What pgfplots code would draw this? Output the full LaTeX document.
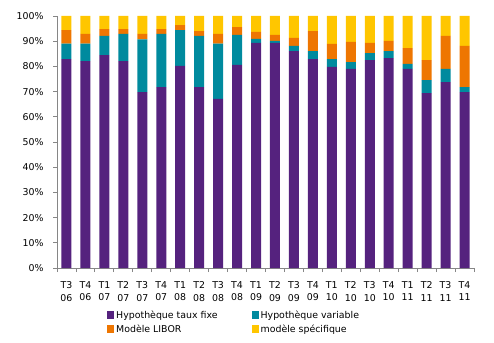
\documentclass[border=0pt]{standalone}
\usepackage{pgfplots}
\pgfplotsset{compat=1.18}
\usepackage{pgfplotstable}
\usepackage{fontspec}
\setmainfont{DejaVu Sans}
\definecolor{cPurple}{HTML}{55227E}
\definecolor{cTeal}{HTML}{008A9E}
\definecolor{cOrange}{HTML}{EE7601}
\definecolor{cYellow}{HTML}{FFC600}
\definecolor{cAxis}{HTML}{868686}
\pgfplotstableread{
x a b c d
0 82.9 6.1 5.4 5.6
1 82.1 6.9 3.9 7.1
2 84.5 7.6 2.7 5.2
3 82.1 10.8 1.9 5.2
4 69.8 20.9 2.2 7.1
5 71.8 21.1 1.9 5.2
6 80.2 14.2 2.0 3.6
7 71.8 20.3 1.9 6.0
8 67.1 21.9 3.9 7.1
9 80.6 11.9 3.1 4.4
10 89.3 1.6 2.8 6.3
11 89.3 0.8 2.4 7.5
12 86.1 2.0 3.2 8.7
13 82.9 3.2 7.9 6.0
14 79.8 3.1 6.0 11.1
15 79.0 2.7 8.0 10.3
16 82.5 2.8 4.0 10.7
17 83.3 2.8 4.0 9.9
18 79.0 2.0 6.3 12.7
19 69.4 5.2 7.9 17.5
20 73.8 5.2 13.1 7.9
21 69.8 2.0 16.3 11.9
}\data
\pgfplotsset{sqleg/.style={legend image code/.code={\fill[##1] (0pt,-3.6pt) rectangle (7pt,3.6pt);}}}
\begin{document}
\begin{tikzpicture}
\useasboundingbox (0,0) rectangle (494pt,342pt);
\begin{axis}[
  at={(57pt,74pt)}, anchor=south west,
  scale only axis, width=417pt, height=252pt,
  ybar stacked, bar width=10pt,
  xmin=-0.5, xmax=21.5, ymin=0, ymax=100,
  axis x line*=bottom, axis y line*=left,
  axis line style={draw=cAxis, line width=0.9pt},
  tick align=outside,
  tick style={draw=cAxis, line width=0.9pt},
  major tick length=4pt, minor tick length=4pt,
  xtick={0,...,21},
  major x tick style={draw=none},
  minor xtick={-0.5,0.5,...,21.5},
  xticklabels={{T3\\06},{T4\\06},{T1\\07},{T2\\07},{T3\\07},{T4\\07},{T1\\08},{T2\\08},{T3\\08},{T4\\08},{T1\\09},{T2\\09},{T3\\09},{T4\\09},{T1\\10},{T2\\10},{T3\\10},{T4\\10},{T1\\11},{T2\\11},{T3\\11},{T4\\11}},
  xticklabel style={align=center, font=\fontsize{9.4}{12.5}\selectfont, yshift=-6pt},
  ytick={0,10,...,100},
  yticklabels={0\%,10\%,20\%,30\%,40\%,50\%,60\%,70\%,80\%,90\%,100\%},
  yticklabel style={font=\fontsize{9.4}{11}\selectfont, xshift=-6pt},
  legend columns=2,
  legend cell align=left,
  legend style={draw=none, fill=none, at={(0.12,-0.16)}, anchor=north west,
    font=\fontsize{9.4}{11}\selectfont, inner sep=0pt,
    /tikz/every even column/.append style={column sep=32pt},
    row sep=1pt},
]
\addplot[fill=cPurple, draw=none, sqleg] table[x=x, y=a] {\data};
\addplot[fill=cTeal, draw=none, sqleg] table[x=x, y=b] {\data};
\addplot[fill=cOrange, draw=none, sqleg] table[x=x, y=c] {\data};
\addplot[fill=cYellow, draw=none, sqleg] table[x=x, y=d] {\data};
\legend{Hypothèque taux fixe, Hypothèque variable, Modèle LIBOR, modèle spécifique}
\end{axis}
\end{tikzpicture}
\end{document}
